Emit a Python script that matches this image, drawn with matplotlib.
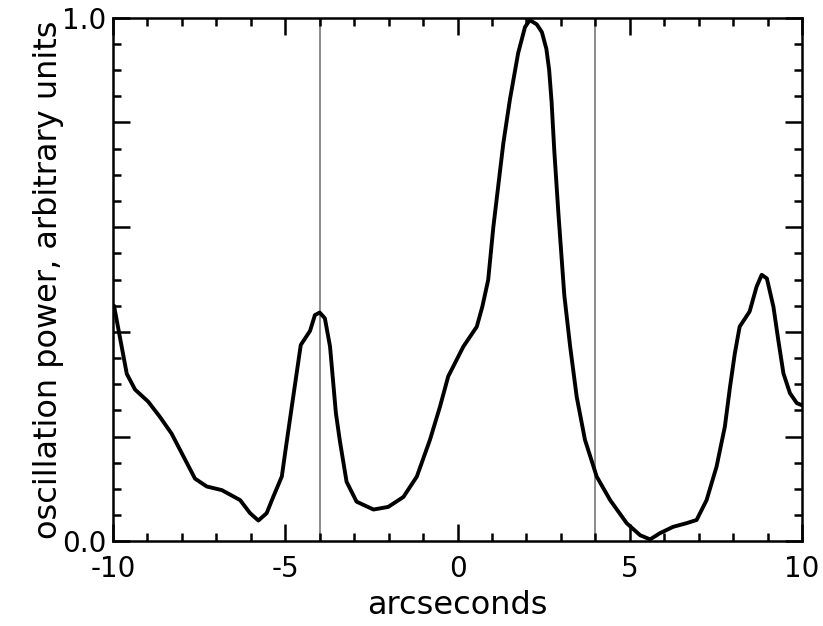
import matplotlib
matplotlib.use("Agg")
import matplotlib.pyplot as plt
from matplotlib.ticker import MultipleLocator, FixedLocator, FixedFormatter

plt.rcParams["axes.unicode_minus"] = False

# oscillation power profile
x_arcsec = [-9.97, -9.8, -9.6, -9.36, -8.98, -8.64, -8.3, -8.0, -7.62, -7.28,
            -6.84, -6.31, -6.02, -5.78, -5.54, -5.35, -5.10, -4.98, -4.80, -4.55,
            -4.40, -4.28, -4.14, -4.0, -3.85, -3.70, -3.53, -3.41, -3.22, -2.93,
            -2.44, -2.01, -1.57, -1.18, -0.80, -0.51, -0.27, 0.17, 0.56, 0.72,
            0.89, 1.04, 1.33, 1.52, 1.76, 1.96, 2.10, 2.30, 2.45, 2.58,
            2.66, 2.73, 2.81, 2.93, 3.10, 3.27, 3.46, 3.70, 4.04, 4.43,
            4.91, 5.30, 5.59, 5.88, 6.26, 6.65, 6.94, 7.23, 7.52, 7.76,
            7.91, 8.05, 8.19, 8.48, 8.68, 8.83, 8.98, 9.17, 9.31, 9.46,
            9.65, 9.85, 10.0]
power = [0.45, 0.39, 0.32, 0.29, 0.267, 0.238, 0.206, 0.168, 0.12, 0.105,
         0.098, 0.079, 0.054, 0.040, 0.054, 0.085, 0.124, 0.18, 0.262, 0.375,
         0.39, 0.402, 0.432, 0.437, 0.426, 0.372, 0.245, 0.19, 0.114, 0.076,
         0.061, 0.066, 0.085, 0.124, 0.194, 0.257, 0.315, 0.372, 0.41, 0.448,
         0.499, 0.60, 0.76, 0.843, 0.932, 0.982, 0.995, 0.987, 0.972, 0.94,
         0.90, 0.84, 0.745, 0.625, 0.47, 0.372, 0.276, 0.194, 0.124, 0.079,
         0.035, 0.012, 0.004, 0.016, 0.028, 0.035, 0.041, 0.079, 0.143, 0.219,
         0.295, 0.359, 0.41, 0.439, 0.486, 0.509, 0.502, 0.448, 0.385, 0.321,
         0.283, 0.264, 0.26]

marker_lines = [-4, 4]

y_major = [0.0, 0.2, 0.4, 0.6, 0.8, 1.0]
y_labels = ["0.0", "", "", "", "", "1.0"]
x_major = [-10, -5, 0, 5, 10]

fig = plt.figure(figsize=(8.23, 6.26), dpi=100)
ax = fig.add_axes([0.1373, 0.135, 0.8372, 0.837])

for xv in marker_lines:
    ax.axvline(xv, color="#8a8a8a", linewidth=1.4, zorder=1)

ax.plot(x_arcsec, power, color="black", linewidth=2.8,
        solid_joinstyle="round", solid_capstyle="round", zorder=3)

ax.set_xlim(-10, 10)
ax.set_ylim(0, 1.0)

ax.xaxis.set_major_locator(FixedLocator(x_major))
ax.xaxis.set_minor_locator(MultipleLocator(1))
ax.yaxis.set_major_locator(FixedLocator(y_major))
ax.yaxis.set_major_formatter(FixedFormatter(y_labels))
ax.yaxis.set_minor_locator(MultipleLocator(0.05))

ax.tick_params(which="both", direction="in", top=True, right=True,
               width=1.8, color="black")
ax.tick_params(which="major", length=12, labelsize=20)
ax.tick_params(axis="x", which="major", pad=10)
ax.tick_params(axis="y", which="major", pad=5)
ax.tick_params(which="minor", length=6)

for s in ax.spines.values():
    s.set_linewidth(1.8)

ax.set_xlabel("arcseconds", fontsize=23, labelpad=5)
ax.set_ylabel("oscillation power, arbitrary units", fontsize=23, labelpad=-2)

plt.savefig("out.png", dpi=100)
plt.close()
